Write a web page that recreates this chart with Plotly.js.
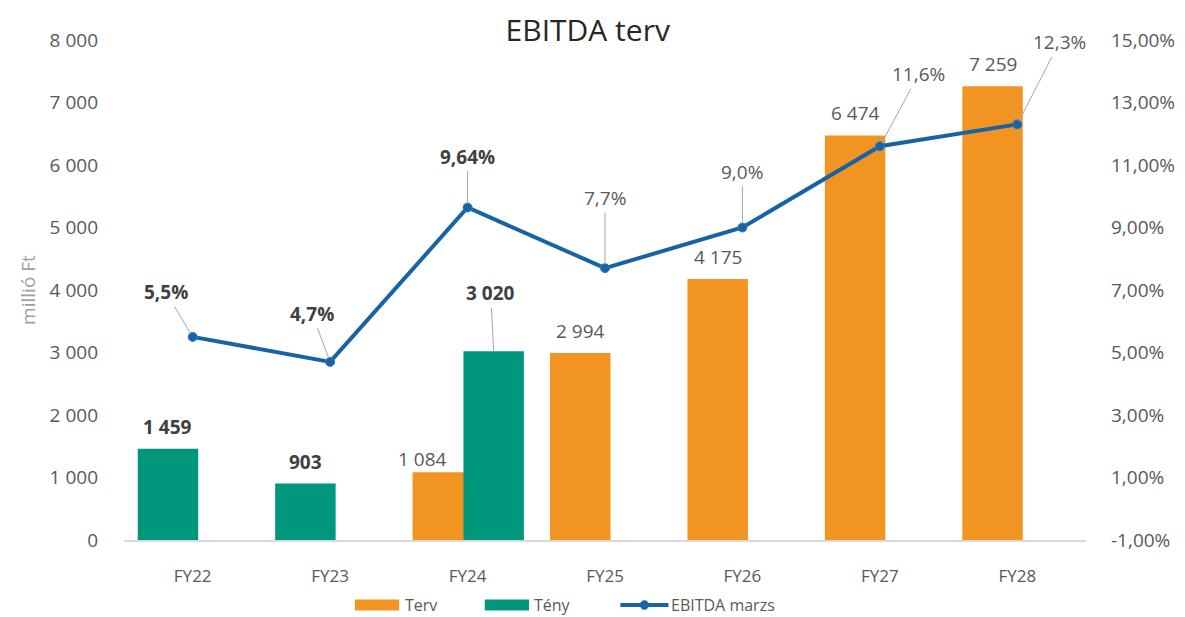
<!DOCTYPE html>
<html>
<head>
<meta charset="utf-8">
<script src="https://cdn.plot.ly/plotly-3.0.1.min.js"></script>
<style>html,body{margin:0;padding:0;background:#fff;}#chart{width:1185px;height:617px;}</style>
</head>
<body>
<div id="chart"></div>
<script>
// ---- data ----
const categories = ["FY22", "FY23", "FY24", "FY25", "FY26", "FY27", "FY28"];
const terv = [null, null, 1084, 2994, 4175, 6474, 7259];
const teny = [1459, 903, 3020, null, null, null, null];
const marzs = [5.5, 4.7, 9.64, 7.7, 9.0, 11.6, 12.3];
const marzsLabels = ["5,5%", "4,7%", "9,64%", "7,7%", "9,0%", "11,6%", "12,3%"];
const marzsTickVals = [-1, 1, 3, 5, 7, 9, 11, 13, 15];
const marzsTickText = ["-1,00%", "1,00%", "3,00%", "5,00%", "7,00%", "9,00%", "11,00%", "13,00%", "15,00%"];
const seriesNames = ["Terv", "Tény", "EBITDA marzs"];

// ---- style ----
const FONT = "Open Sans, Noto Sans, sans-serif";
const ORANGE = "#F29422";
const TEAL = "#00977C";
const BLUE = "#1763A6";
const GRAY = "#595959";
const DARK = "#404040";
const BAR_W = 0.44;
const tervOffset = categories.map(() => -0.40);
const tenyOffset = categories.map((c, i) => (terv[i] !== null ? -0.03 : -0.40));

function fmt(v) {
  return String(Math.round(v)).replace(/\B(?=(\d{3})+(?!\d))/g, " ");
}

const traces = [
  {
    type: "bar", name: seriesNames[0], x: categories, y: terv,
    offset: tervOffset, width: categories.map(() => BAR_W),
    marker: {color: ORANGE}, showlegend: false, hoverinfo: "x+y"
  },
  {
    type: "bar", name: seriesNames[1], x: categories, y: teny,
    offset: tenyOffset, width: categories.map(() => BAR_W),
    marker: {color: TEAL}, showlegend: false, hoverinfo: "x+y"
  },
  {
    type: "scatter", mode: "lines+markers", name: seriesNames[2],
    x: categories, y: marzs, yaxis: "y2",
    line: {color: BLUE, width: 4},
    marker: {color: BLUE, size: 9, line: {color: "#2f7cc0", width: 1}},
    showlegend: false
  }
];

const annotations = [];
// bar labels
terv.forEach((v, i) => {
  if (v === null) return;
  const special = teny[i] !== null;
  annotations.push({
    x: i + tervOffset[i] + BAR_W / 2, y: v, xref: "x", yref: "y",
    text: fmt(v), showarrow: false, yanchor: "middle",
    yshift: special ? 13 : 22, xshift: special ? -20 : 0,
    font: {family: FONT, size: 19, color: GRAY}
  });
});
teny.forEach((v, i) => {
  if (v === null) return;
  const special = terv[i] !== null;
  const a = {
    x: i + tenyOffset[i] + BAR_W / 2, y: v, xref: "x", yref: "y",
    text: "<b>" + fmt(v) + "</b>",
    font: {family: FONT, size: 19, color: DARK}
  };
  if (special) {
    Object.assign(a, {showarrow: true, arrowhead: 0, arrowwidth: 1, arrowcolor: "#a6a6a6",
      ax: -3, ay: -58, standoff: 0});
  } else {
    Object.assign(a, {showarrow: false, yanchor: "middle", yshift: 22});
  }
  annotations.push(a);
});
// margin labels
const lblOff = [[-27, -45], [-18, -48], [0, -51], [0, -70], [0, -56], [39, -72], [42, -82]];
marzs.forEach((v, i) => {
  const actual = teny[i] !== null;
  annotations.push({
    x: i, y: v, xref: "x", yref: "y2",
    text: actual ? "<b>" + marzsLabels[i] + "</b>" : marzsLabels[i],
    showarrow: true, arrowhead: 0, arrowwidth: 1, arrowcolor: "#a6a6a6",
    ax: lblOff[i][0], ay: lblOff[i][1], standoff: 4,
    font: {family: FONT, size: 19, color: actual ? DARK : GRAY}
  });
});

// manual legend (wide swatches like the original)
const LY = -0.13;
const shapes = [
  {type: "rect", xref: "paper", yref: "paper", x0: 0.240, x1: 0.286, y0: LY - 0.011, y1: LY + 0.011,
   fillcolor: ORANGE, line: {width: 0}},
  {type: "rect", xref: "paper", yref: "paper", x0: 0.375, x1: 0.421, y0: LY - 0.011, y1: LY + 0.011,
   fillcolor: TEAL, line: {width: 0}},
  {type: "line", xref: "paper", yref: "paper", x0: 0.516, x1: 0.566, y0: LY, y1: LY,
   line: {color: BLUE, width: 4}},
  {type: "circle", xref: "paper", yref: "paper", x0: 0.537, x1: 0.545, y0: LY - 0.0085, y1: LY + 0.0085,
   fillcolor: BLUE, line: {color: BLUE, width: 1}}
];
[[0.290, seriesNames[0]], [0.424, seriesNames[1]], [0.567, seriesNames[2]]].forEach(([x, t]) => {
  annotations.push({x: x, y: LY, xref: "paper", yref: "paper", text: t, showarrow: false,
    xanchor: "left", yanchor: "middle", font: {family: FONT, size: 16, color: GRAY}});
});

const layout = {
  width: 1185, height: 617,
  margin: {l: 124, r: 99, t: 40, b: 77, pad: 0},
  paper_bgcolor: "#ffffff", plot_bgcolor: "#ffffff",
  separators: ", ",
  font: {family: FONT, color: GRAY},
  title: {text: "EBITDA terv", x: 0.496, xanchor: "center", y: 0.951, yanchor: "middle",
    font: {family: FONT, size: 30, color: "#262626"}},
  barmode: "overlay",
  showlegend: false,
  xaxis: {
    type: "category", range: [-0.5, 6.5], showline: true, linecolor: "#d9d9d9", linewidth: 1.5,
    ticks: "", showgrid: false, zeroline: false, ticklabelstandoff: 20,
    tickfont: {family: FONT, size: 17, color: GRAY}, fixedrange: true
  },
  yaxis: {
    range: [0, 8000], dtick: 1000, tick0: 0, tickformat: ",d", showgrid: false, zeroline: false,
    showline: false, ticks: "", ticklabelstandoff: 25,
    tickfont: {family: FONT, size: 19, color: GRAY},
    title: {text: "millió Ft", standoff: 8, font: {family: FONT, size: 19, color: "#a0a0a0"}}
  },
  yaxis2: {
    overlaying: "y", side: "right", range: [-1, 15],
    tickmode: "array", tickvals: marzsTickVals, ticktext: marzsTickText,
    showgrid: false, zeroline: false, showline: false, ticks: "",
    ticklabelstandoff: 24, tickfont: {family: FONT, size: 19, color: GRAY}
  },
  annotations: annotations,
  shapes: shapes
};

Plotly.newPlot("chart", traces, layout, {displayModeBar: false, staticPlot: true});
</script>
</body>
</html>
